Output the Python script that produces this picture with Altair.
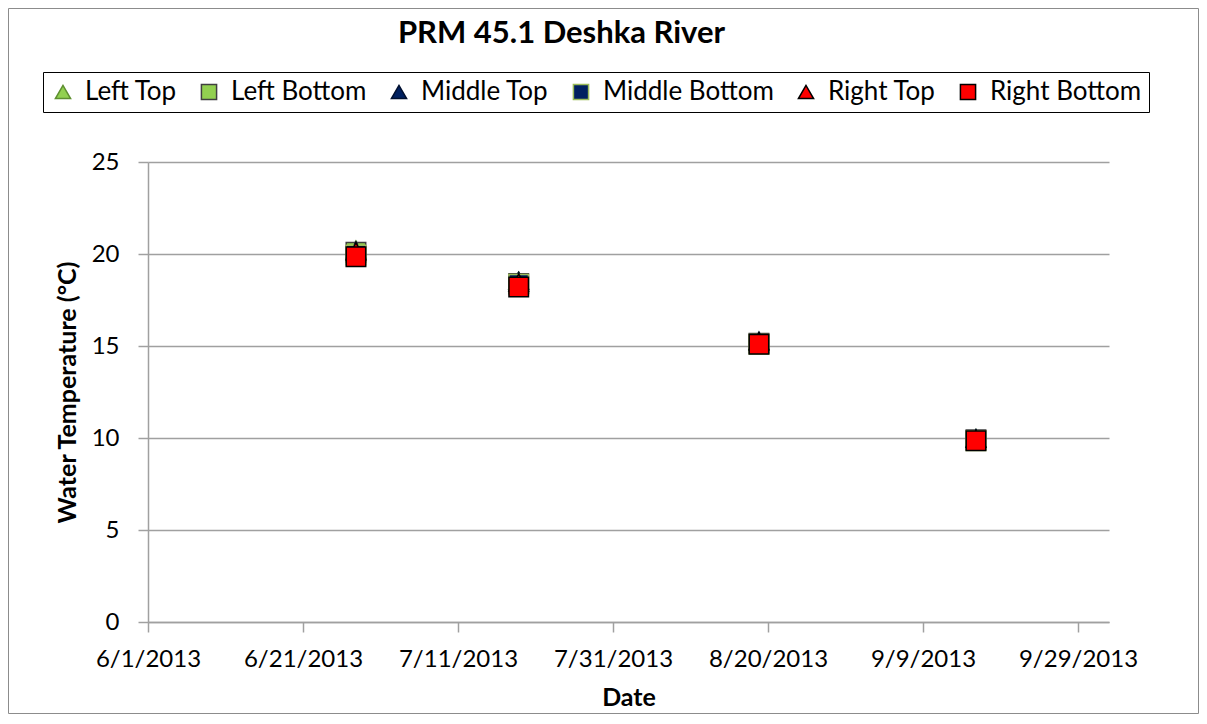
import altair as alt
import pandas as pd

# ---- data ----
series_names = ["Left Top", "Left Bottom", "Middle Top", "Middle Bottom", "Right Top", "Right Bottom"]
sample_dates = ["2013-06-27T20:00:00Z", "2013-07-18T20:00:00Z", "2013-08-18T20:00:00Z", "2013-09-15T20:00:00Z"]
left_top = [20.25, 18.55, 15.25, 10.00]
left_bottom = [20.10, 18.40, 15.15, 9.90]
middle_top = [20.20, 18.55, 15.30, 10.00]
middle_bottom = [19.95, 18.35, 15.10, 9.85]
right_top = [20.15, 18.45, 15.25, 9.95]
right_bottom = [19.85, 18.20, 15.10, 9.85]

series_values = [left_top, left_bottom, middle_top, middle_bottom, right_top, right_bottom]
series_fills = ["#92D050", "#92D050", "#002060", "#002060", "#FF0000", "#FF0000"]
series_strokes = ["#5E8F30", "#404040", "#001030", "#9BBB59", "#000000", "#000000"]
series_shapes = ["triangle-up", "square", "triangle-up", "square", "triangle-up", "square"]

tick_month_day = [(6, 1), (6, 21), (7, 11), (7, 31), (8, 20), (9, 9), (9, 29)]
x_start = (6, 1)
x_end = (10, 3)

rows = []
for i, (name, vals) in enumerate(zip(series_names, series_values)):
    for d, v in zip(sample_dates, vals):
        rows.append({"Series": name, "Date": d, "Temp": v, "ord": i})
df = pd.DataFrame(rows)

FONT = "Lato"
W, H = 961, 460

x_scale = alt.Scale(
    type="utc",
    domain=[alt.DateTime(year=2013, month=x_start[0], date=x_start[1], utc=True),
            alt.DateTime(year=2013, month=x_end[0], date=x_end[1], utc=True)],
)
x_axis = alt.Axis(
    title="Date",
    values=[alt.DateTime(year=2013, month=m, date=d, utc=True) for m, d in tick_month_day],
    format="%-m/%-d/%Y",
    grid=False,
    tickSize=10,
    labelPadding=15,
    labelOverlap=False,
    labelFlush=False,
    titlePadding=14,
)
y_axis = alt.Axis(
    title="Water Temperature (°C)",
    values=[0, 5, 10, 15, 20, 25],
    grid=True,
    tickSize=10,
    labelPadding=19,
    labelFlush=False,
    titlePadding=11,
)

legend_kw = dict(title=None)

points = alt.Chart(df).mark_point(filled=True, size=380, strokeWidth=1.5, opacity=1).encode(
    x=alt.X("Date:T", scale=x_scale, axis=x_axis),
    y=alt.Y("Temp:Q", scale=alt.Scale(domain=[0, 25], nice=False), axis=y_axis),
    shape=alt.Shape("Series:N", scale=alt.Scale(domain=series_names, range=series_shapes),
                    legend=alt.Legend(**legend_kw)),
    fill=alt.Fill("Series:N", scale=alt.Scale(domain=series_names, range=series_fills),
                  legend=alt.Legend(**legend_kw)),
    stroke=alt.Stroke("Series:N", scale=alt.Scale(domain=series_names, range=series_strokes),
                      legend=alt.Legend(**legend_kw)),
    order=alt.Order("ord:Q"),
)

# outer chart-area border (decoration)
frame_df = pd.DataFrame({"k": [0]})
frame = alt.Chart(frame_df).mark_rect(fill=None, stroke="#8c8c8c", strokeWidth=1).encode(
    x=alt.value(-139.5), x2=alt.value(W + 89.5), y=alt.value(-153.5), y2=alt.value(H + 91.5)
)

chart = alt.layer(frame, points).properties(
    width=W,
    height=H,
    autosize=alt.AutoSizeParams(type="none"),
    padding={"left": 140, "top": 154, "right": 90, "bottom": 92},
    title=alt.TitleParams(
        text="PRM 45.1 Deshka River",
        font=FONT, fontSize=31, fontWeight="bold", color="black",
        anchor="middle", dx=-67, offset=0, dy=42,
    ),
).configure_view(
    stroke=None
).configure_axis(
    labelFont=FONT, labelFontSize=24, labelColor="black",
    titleFont=FONT, titleFontSize=25, titleFontWeight="bold", titleColor="black",
    domainColor="#a0a0a0", domainWidth=1.5,
    tickColor="#a0a0a0", tickWidth=1.5,
    gridColor="#a0a0a0", gridWidth=1.5,
).configure_legend(
    orient="none", legendX=-105, legendY=-90,
    direction="horizontal",
    labelFont=FONT, labelFontSize=26, labelColor="black", labelLimit=400,
    symbolSize=230, symbolStrokeWidth=1.5,
    strokeColor="black", padding=7,
    columnPadding=19, labelOffset=9,
)

chart.save("out.html", embed_options={"renderer": "svg", "actions": False})
